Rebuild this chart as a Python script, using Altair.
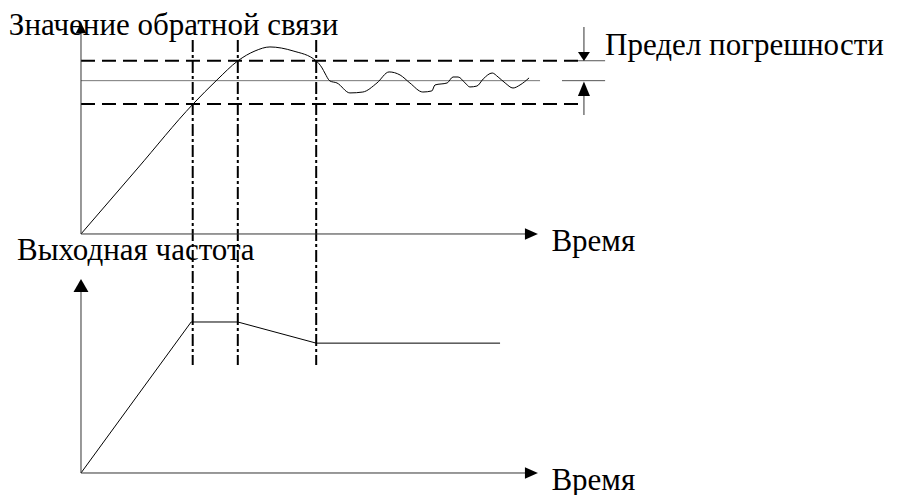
import altair as alt
import pandas as pd

# ---------------- data (diagram units) ----------------
# time values of the three vertical dash-dot markers
T_MARKS = [2.85, 4.0, 6.0]

# feedback curve (top panel): time, value (setpoint = 1.0)
FB_T = [0.0, 1.43, 2.86, 3.47, 4.0, 4.44, 4.82, 5.41, 6.0, 6.15, 6.22, 6.35, 6.53,
        6.86, 7.19, 7.55, 7.86, 8.14, 8.39, 8.72, 8.95, 9.03, 9.34, 9.49, 9.62,
        9.8, 9.92, 10.1, 10.26, 10.49, 10.64, 10.82, 11.02, 11.2, 11.43]
FB_V = [0.0, 0.424, 0.848, 1.005, 1.129, 1.194, 1.22, 1.194, 1.129, 1.083, 1.05,
        0.998, 0.985, 0.92, 0.926, 0.985, 1.057, 1.037, 0.985, 0.926, 0.933, 0.972,
        0.985, 1.024, 1.024, 0.985, 0.959, 0.965, 1.011, 1.05, 1.024, 0.985, 0.952,
        0.972, 1.018]

SETPOINT = 1.0
BAND_HI = 1.13
BAND_LO = 0.848

# output frequency (bottom panel)
FREQ_T = [0.0, 2.81, 4.0, 6.0, 10.69]
FREQ_F = [0.0, 50.0, 50.0, 43.0, 43.0]

# labels
LBL_FEEDBACK = "Значение обратной связи"
LBL_FREQ = "Выходная частота"
LBL_TIME = "Время"
LBL_TOL = "Предел погрешности"

# ---------------- scales ----------------
W, H = 883, 487
X_DOM = [-1.862, 20.663]
YT_DOM = [-1.7025, 1.474]
YB_DOM = [-7.285, 153.97]

FONT = "Times New Roman"
FS = 31

def X(f="t"):
    return alt.X(f"{f}:Q", scale=alt.Scale(domain=X_DOM, nice=False, zero=False), axis=None)

def YT(f="v"):
    return alt.Y(f"{f}:Q", scale=alt.Scale(domain=YT_DOM, nice=False, zero=False), axis=None)

def YB(f="v"):
    return alt.Y(f"{f}:Q", scale=alt.Scale(domain=YB_DOM, nice=False, zero=False), axis=None)

AX_END = 11.49      # x-axis arrow centre
T_BAND_END = 12.68
T_SET_END = 11.71
T_TOL = 12.83
T_TOL_L = 12.27
T_TOL_R = 13.37

layers = []

# dashed tolerance band
band = pd.DataFrame({"t0": [0.0, 0.0], "t1": [T_BAND_END, T_BAND_END], "v": [BAND_HI, BAND_LO]})
layers.append(alt.Chart(band).mark_rule(color="black", strokeWidth=2, strokeDash=[14, 7])
              .encode(x=X("t0"), x2="t1", y=YT()))

# setpoint line
sp = pd.DataFrame({"t0": [0.0], "t1": [T_SET_END], "v": [SETPOINT]})
layers.append(alt.Chart(sp).mark_rule(color="#777777", strokeWidth=1)
              .encode(x=X("t0"), x2="t1", y=YT()))

# short extension ticks near the tolerance arrows
ticks = pd.DataFrame({"t0": [T_BAND_END, T_TOL_L], "t1": [T_TOL_R, T_TOL_R], "v": [BAND_HI, SETPOINT]})
layers.append(alt.Chart(ticks).mark_rule(color="#555555", strokeWidth=1)
              .encode(x=X("t0"), x2="t1", y=YT()))

# feedback curve
fb = pd.DataFrame({"t": FB_T, "v": FB_V})
layers.append(alt.Chart(fb).mark_line(color="black", strokeWidth=1, interpolate="monotone")
              .encode(x=X(), y=YT()))

# vertical dash-dot markers
vm = pd.DataFrame({"t": T_MARKS, "v0": [1.266] * 3, "v1": [-0.855] * 3})
layers.append(alt.Chart(vm).mark_rule(color="black", strokeWidth=2, strokeDash=[12, 3, 3, 3])
              .encode(x=X(), y=YT("v0"), y2="v1"))

# top axes
tax = pd.DataFrame({"t0": [0.0], "t1": [AX_END], "v": [0.0]})
layers.append(alt.Chart(tax).mark_rule(color="#333333", strokeWidth=1)
              .encode(x=X("t0"), x2="t1", y=YT()))
tay = pd.DataFrame({"t": [0.0], "v0": [0.0], "v1": [1.34]})
layers.append(alt.Chart(tay).mark_rule(color="#333333", strokeWidth=1)
              .encode(x=X(), y=YT("v0"), y2="v1"))

# tolerance arrows shafts
tol = pd.DataFrame({"t": [T_TOL, T_TOL], "v0": [1.35, 0.776], "v1": [1.16, 0.947]})
layers.append(alt.Chart(tol).mark_rule(color="#333333", strokeWidth=1)
              .encode(x=X(), y=YT("v0"), y2="v1"))

UP = "M0,-1L-1,1L1,1Z"
RIGHT = "M1,0L-1,-0.9L-1,0.9Z"
DOWN_SMALL = "M0,1L-1.33,-1L1.33,-1Z"
UP_TALL = "M0,-1L-0.83,1L0.83,1Z"
UP_WIDE = "M0,-1L-1.15,1L1.15,1Z"

def head(df, shape, size, yenc):
    return (alt.Chart(df).mark_point(shape=shape, size=size, filled=True, color="black", opacity=1, strokeWidth=0)
            .encode(x=X(), y=yenc))

layers.append(head(pd.DataFrame({"t": [0.0], "v": [1.344]}), UP, 110, YT()))
layers.append(head(pd.DataFrame({"t": [AX_END], "v": [0.0]}), RIGHT, 169, YT()))
layers.append(head(pd.DataFrame({"t": [T_TOL], "v": [1.158]}), DOWN_SMALL, 81, YT()))
layers.append(head(pd.DataFrame({"t": [T_TOL], "v": [0.947]}), UP_TALL, 210, YT()))

# top texts
ttext = pd.DataFrame({"t": [-1.84, 13.37, 12.0], "v": [1.298, 1.168, -0.111],
                      "label": [LBL_FEEDBACK, LBL_TOL, LBL_TIME]})
layers.append(alt.Chart(ttext).mark_text(align="left", baseline="alphabetic", font=FONT, fontSize=FS, color="black")
              .encode(x=X(), y=YT(), text="label:N"))

# ---------------- bottom panel ----------------
fq = pd.DataFrame({"t": FREQ_T, "v": FREQ_F})
layers.append(alt.Chart(fq).mark_line(color="black", strokeWidth=1)
              .encode(x=X(), y=YB()))

bax = pd.DataFrame({"t0": [0.0], "t1": [AX_END], "v": [0.0]})
layers.append(alt.Chart(bax).mark_rule(color="#333333", strokeWidth=1)
              .encode(x=X("t0"), x2="t1", y=YB()))
bay = pd.DataFrame({"t": [0.0], "v0": [0.0], "v1": [62.0]})
layers.append(alt.Chart(bay).mark_rule(color="#333333", strokeWidth=1)
              .encode(x=X(), y=YB("v0"), y2="v1"))

layers.append(head(pd.DataFrame({"t": [0.0], "v": [62.1]}), UP_WIDE, 169, YB()))
layers.append(head(pd.DataFrame({"t": [AX_END], "v": [0.0]}), RIGHT, 169, YB()))

btext = pd.DataFrame({"t": [-1.633, 12.0], "v": [70.5, -5.63], "label": [LBL_FREQ, LBL_TIME]})
layers.append(alt.Chart(btext).mark_text(align="left", baseline="alphabetic", font=FONT, fontSize=FS, color="black")
              .encode(x=X(), y=YB(), text="label:N"))

chart = (alt.layer(*layers)
         .resolve_scale(y="independent")
         .properties(width=W, height=H, padding=0, autosize=alt.AutoSizeParams(type="none"),
                     background="white")
         .configure(font=FONT)
         .configure_text(font=FONT)
         .configure_view(stroke=None))

chart.save("out.html", embed_options={"renderer": "svg", "actions": False})
